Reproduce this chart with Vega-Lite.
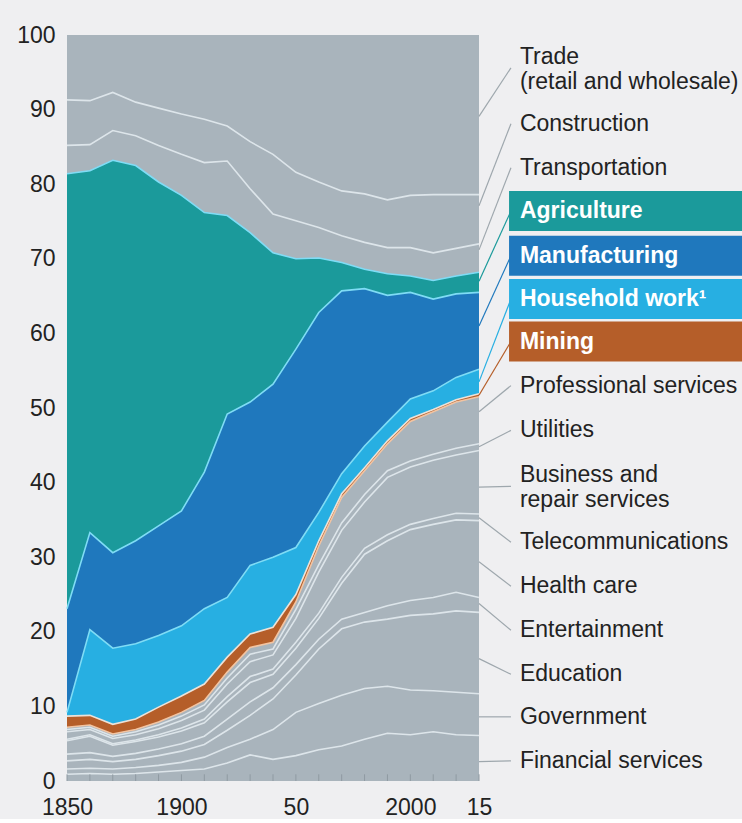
{
  "$schema": "https://vega.github.io/schema/vega-lite/v6.json",
  "background": "#efeff1",
  "padding": {"left": 16, "top": 24, "right": 0, "bottom": 0},
  "bounds": "flush",
  "spacing": 0,
  "config": {
    "view": {"stroke": null},
    "font": "Liberation Sans",
    "text": {"font": "Liberation Sans"}
  },
  "resolve": {"scale": {"fill": "independent", "stroke": "independent", "color": "independent"}},
  "datasets": {
    "employment": [
      {"year": 1850, "Financial services": 0.9, "Government": 0.7, "Education": 1.1, "Entertainment": 0.9, "Health care": 1.8, "Telecommunications": 0.2, "Business and repair services": 1.0, "Utilities": 0.3, "Professional services": 0.3, "Mining": 1.5, "Household work": 0.5, "Manufacturing": 13.9, "Agriculture": 58.3, "Transportation": 3.8, "Construction": 6.1, "Trade": 8.7},
      {"year": 1860, "Financial services": 1.0, "Government": 0.7, "Education": 1.2, "Entertainment": 0.9, "Health care": 2.2, "Telecommunications": 0.2, "Business and repair services": 0.7, "Utilities": 0.3, "Professional services": 0.3, "Mining": 1.3, "Household work": 11.5, "Manufacturing": 13.0, "Agriculture": 48.5, "Transportation": 3.5, "Construction": 5.9, "Trade": 8.8},
      {"year": 1870, "Financial services": 0.9, "Government": 0.7, "Education": 1.0, "Entertainment": 0.7, "Health care": 1.5, "Telecommunications": 0.2, "Business and repair services": 0.7, "Utilities": 0.3, "Professional services": 0.3, "Mining": 1.3, "Household work": 10.2, "Manufacturing": 12.8, "Agriculture": 52.6, "Transportation": 4.0, "Construction": 5.1, "Trade": 7.7},
      {"year": 1880, "Financial services": 1.0, "Government": 0.8, "Education": 1.1, "Entertainment": 0.8, "Health care": 1.6, "Telecommunications": 0.2, "Business and repair services": 0.7, "Utilities": 0.4, "Professional services": 0.3, "Mining": 1.4, "Household work": 10.1, "Manufacturing": 13.8, "Agriculture": 50.3, "Transportation": 4.0, "Construction": 4.5, "Trade": 9.0},
      {"year": 1890, "Financial services": 1.2, "Government": 0.9, "Education": 1.3, "Entertainment": 0.9, "Health care": 1.6, "Telecommunications": 0.3, "Business and repair services": 0.8, "Utilities": 0.5, "Professional services": 0.4, "Mining": 2.0, "Household work": 9.6, "Manufacturing": 14.7, "Agriculture": 46.1, "Transportation": 4.9, "Construction": 5.0, "Trade": 9.8},
      {"year": 1900, "Financial services": 1.4, "Government": 1.1, "Education": 1.5, "Entertainment": 1.0, "Health care": 1.7, "Telecommunications": 0.4, "Business and repair services": 1.0, "Utilities": 0.6, "Professional services": 0.5, "Mining": 2.2, "Household work": 9.4, "Manufacturing": 15.4, "Agriculture": 42.3, "Transportation": 5.5, "Construction": 5.4, "Trade": 10.6},
      {"year": 1910, "Financial services": 1.6, "Government": 1.6, "Education": 1.7, "Entertainment": 1.1, "Health care": 1.8, "Telecommunications": 0.5, "Business and repair services": 1.2, "Utilities": 0.7, "Professional services": 0.6, "Mining": 2.2, "Household work": 10.1, "Manufacturing": 18.3, "Agriculture": 34.8, "Transportation": 6.7, "Construction": 5.8, "Trade": 11.3},
      {"year": 1920, "Financial services": 2.4, "Government": 2.1, "Education": 2.3, "Entertainment": 1.5, "Health care": 2.3, "Telecommunications": 0.7, "Business and repair services": 1.7, "Utilities": 0.8, "Professional services": 0.8, "Mining": 2.0, "Household work": 8.0, "Manufacturing": 24.6, "Agriculture": 26.6, "Transportation": 7.3, "Construction": 4.7, "Trade": 12.2},
      {"year": 1930, "Financial services": 3.5, "Government": 2.1, "Education": 3.2, "Entertainment": 1.8, "Health care": 2.6, "Telecommunications": 0.8, "Business and repair services": 2.0, "Utilities": 1.0, "Professional services": 0.9, "Mining": 1.8, "Household work": 9.2, "Manufacturing": 21.9, "Agriculture": 22.7, "Transportation": 5.9, "Construction": 6.3, "Trade": 14.3},
      {"year": 1940, "Financial services": 2.9, "Government": 4.0, "Education": 4.1, "Entertainment": 1.5, "Health care": 1.8, "Telecommunications": 0.7, "Business and repair services": 1.9, "Utilities": 0.8, "Professional services": 0.9, "Mining": 2.0, "Household work": 9.4, "Manufacturing": 23.2, "Agriculture": 17.6, "Transportation": 5.2, "Construction": 8.0, "Trade": 16.0},
      {"year": 1950, "Financial services": 3.4, "Government": 5.8, "Education": 5.0, "Entertainment": 1.4, "Health care": 2.2, "Telecommunications": 0.8, "Business and repair services": 3.2, "Utilities": 1.2, "Professional services": 1.0, "Mining": 1.0, "Household work": 6.3, "Manufacturing": 26.6, "Agriculture": 12.1, "Transportation": 5.1, "Construction": 6.5, "Trade": 18.4},
      {"year": 1960, "Financial services": 4.2, "Government": 6.2, "Education": 7.3, "Entertainment": 1.3, "Health care": 2.8, "Telecommunications": 0.7, "Business and repair services": 5.5, "Utilities": 1.0, "Professional services": 2.5, "Mining": 0.7, "Household work": 3.8, "Manufacturing": 26.8, "Agriculture": 7.3, "Transportation": 4.1, "Construction": 6.1, "Trade": 19.7},
      {"year": 1970, "Financial services": 4.7, "Government": 6.8, "Education": 8.9, "Entertainment": 1.3, "Health care": 4.8, "Telecommunications": 0.8, "Business and repair services": 6.3, "Utilities": 1.0, "Professional services": 3.4, "Mining": 0.5, "Household work": 2.7, "Manufacturing": 24.5, "Agriculture": 3.8, "Transportation": 3.6, "Construction": 6.0, "Trade": 20.9},
      {"year": 1980, "Financial services": 5.6, "Government": 6.8, "Education": 8.9, "Entertainment": 1.3, "Health care": 7.8, "Telecommunications": 0.8, "Business and repair services": 6.2, "Utilities": 1.0, "Professional services": 3.2, "Mining": 0.4, "Household work": 2.9, "Manufacturing": 21.1, "Agriculture": 2.6, "Transportation": 3.6, "Construction": 6.5, "Trade": 21.3},
      {"year": 1990, "Financial services": 6.4, "Government": 6.3, "Education": 9.0, "Entertainment": 1.8, "Health care": 8.7, "Telecommunications": 0.8, "Business and repair services": 7.7, "Utilities": 0.9, "Professional services": 3.6, "Mining": 0.4, "Household work": 2.5, "Manufacturing": 17.0, "Agriculture": 2.9, "Transportation": 3.5, "Construction": 6.4, "Trade": 22.1},
      {"year": 2000, "Financial services": 6.2, "Government": 6.0, "Education": 10.0, "Entertainment": 2.0, "Health care": 9.5, "Telecommunications": 0.7, "Business and repair services": 7.7, "Utilities": 0.8, "Professional services": 5.3, "Mining": 0.4, "Household work": 2.6, "Manufacturing": 14.3, "Agriculture": 2.2, "Transportation": 3.8, "Construction": 7.0, "Trade": 21.5},
      {"year": 2005, "Financial services": 6.6, "Government": 5.5, "Education": 10.3, "Entertainment": 2.2, "Health care": 9.8, "Telecommunications": 0.8, "Business and repair services": 7.8, "Utilities": 0.8, "Professional services": 5.7, "Mining": 0.3, "Household work": 2.5, "Manufacturing": 12.3, "Agriculture": 2.5, "Transportation": 3.7, "Construction": 7.8, "Trade": 21.4},
      {"year": 2010, "Financial services": 6.2, "Government": 5.7, "Education": 10.9, "Entertainment": 2.5, "Health care": 9.7, "Telecommunications": 0.9, "Business and repair services": 7.8, "Utilities": 0.9, "Professional services": 6.2, "Mining": 0.3, "Household work": 3.0, "Manufacturing": 11.2, "Agriculture": 2.4, "Transportation": 3.7, "Construction": 7.2, "Trade": 21.4},
      {"year": 2015, "Financial services": 6.1, "Government": 5.6, "Education": 10.9, "Entertainment": 2.0, "Health care": 10.3, "Telecommunications": 0.9, "Business and repair services": 8.5, "Utilities": 0.9, "Professional services": 6.3, "Mining": 0.4, "Household work": 3.3, "Manufacturing": 10.3, "Agriculture": 2.7, "Transportation": 3.8, "Construction": 6.6, "Trade": 21.4}
    ],
    "sectors": [
      {"sector": "Financial services", "k": 1},
      {"sector": "Government", "k": 2},
      {"sector": "Education", "k": 3},
      {"sector": "Entertainment", "k": 4},
      {"sector": "Health care", "k": 5},
      {"sector": "Telecommunications", "k": 6},
      {"sector": "Business and repair services", "k": 7},
      {"sector": "Utilities", "k": 8},
      {"sector": "Professional services", "k": 9},
      {"sector": "Mining", "k": 10},
      {"sector": "Household work", "k": 11},
      {"sector": "Manufacturing", "k": 12},
      {"sector": "Agriculture", "k": 13},
      {"sector": "Transportation", "k": 14},
      {"sector": "Construction", "k": 15},
      {"sector": "Trade", "k": 16}
    ],
    "labels": [
      {"sector": "Trade", "text": "Trade\n(retail and wholesale)", "ly": 95.6, "ev": 89.1},
      {"sector": "Construction", "text": "Construction", "ly": 88.1, "ev": 77.1},
      {"sector": "Transportation", "text": "Transportation", "ly": 82.2, "ev": 71.2},
      {"sector": "Agriculture", "text": "Agriculture", "ly": 76.4, "ev": 67.0},
      {"sector": "Manufacturing", "text": "Manufacturing", "ly": 70.4, "ev": 61.0},
      {"sector": "Household work", "text": "Household work¹", "ly": 64.6, "ev": 53.5},
      {"sector": "Mining", "text": "Mining", "ly": 58.9, "ev": 51.7},
      {"sector": "Professional services", "text": "Professional services", "ly": 53.0, "ev": 49.5},
      {"sector": "Utilities", "text": "Utilities", "ly": 47.0, "ev": 44.8},
      {"sector": "Business and repair services", "text": "Business and\nrepair services", "ly": 39.5, "ev": 39.4},
      {"sector": "Telecommunications", "text": "Telecommunications", "ly": 32.0, "ev": 35.3},
      {"sector": "Health care", "text": "Health care", "ly": 26.1, "ev": 29.4},
      {"sector": "Entertainment", "text": "Entertainment", "ly": 20.2, "ev": 23.8},
      {"sector": "Education", "text": "Education", "ly": 14.3, "ev": 16.4},
      {"sector": "Government", "text": "Government", "ly": 8.6, "ev": 8.6},
      {"sector": "Financial services", "text": "Financial services", "ly": 2.7, "ev": 2.6}
    ]
  },
  "hconcat": [
    {
      "width": 412,
      "height": 746,
      "data": {"name": "employment"},
      "transform": [
        {"fold": ["Financial services", "Government", "Education", "Entertainment", "Health care", "Telecommunications", "Business and repair services", "Utilities", "Professional services", "Mining", "Household work", "Manufacturing", "Agriculture", "Transportation", "Construction", "Trade"], "as": ["sector", "share"]},
        {"lookup": "sector", "from": {"data": {"name": "sectors"}, "key": "sector", "fields": ["k"]}},
        {"stack": "share", "groupby": ["year"], "sort": [{"field": "k", "order": "ascending"}], "as": ["y0", "y1"]}
      ],
      "encoding": {
        "x": {
          "field": "year", "type": "ordinal",
          "scale": {"type": "point", "padding": 0},
          "axis": {
            "title": null, "ticks": false, "domain": false, "grid": false, "labelAngle": 0,
            "labelFontSize": 23, "labelColor": "#222222", "labelPadding": 15, "labelFont": "Liberation Sans",
            "labelExpr": "datum.value == 1850 ? '1850' : datum.value == 1900 ? '1900' : datum.value == 1950 ? '50' : datum.value == 2000 ? '2000' : datum.value == 2015 ? '15' : ''"
          }
        },
        "y": {
          "field": "y1", "type": "quantitative",
          "scale": {"domain": [0, 100], "nice": false},
          "axis": {
            "title": null, "values": [0, 10, 20, 30, 40, 50, 60, 70, 80, 90, 100],
            "ticks": false, "domain": false, "grid": false, "labelFlush": false,
            "labelFontSize": 23, "labelColor": "#222222", "labelPadding": 12, "labelFont": "Liberation Sans"
          }
        }
      },
      "layer": [
        {
          "mark": {"type": "area", "interpolate": "linear"},
          "encoding": {
            "y2": {"field": "y0"},
            "fill": {
              "field": "sector", "type": "nominal", "legend": null,
              "scale": {
                "domain": ["Financial services", "Government", "Education", "Entertainment", "Health care", "Telecommunications", "Business and repair services", "Utilities", "Professional services", "Mining", "Household work", "Manufacturing", "Agriculture", "Transportation", "Construction", "Trade"],
                "range": ["#a9b4bc", "#a9b4bc", "#a9b4bc", "#a9b4bc", "#a9b4bc", "#a9b4bc", "#a9b4bc", "#a9b4bc", "#a9b4bc", "#b55e29", "#27afe2", "#1f78bd", "#1b9a9b", "#a9b4bc", "#a9b4bc", "#a9b4bc"]
              }
            }
          }
        },
        {
          "transform": [{"filter": "datum.sector != 'Trade'"}],
          "mark": {"type": "line", "strokeWidth": 1.6, "interpolate": "linear"},
          "encoding": {
            "stroke": {
              "field": "sector", "type": "nominal", "legend": null,
              "scale": {
                "domain": ["Financial services", "Government", "Education", "Entertainment", "Health care", "Telecommunications", "Business and repair services", "Utilities", "Professional services", "Mining", "Household work", "Manufacturing", "Agriculture", "Transportation", "Construction"],
                "range": ["#dde5ea", "#dde5ea", "#dde5ea", "#dde5ea", "#dde5ea", "#dde5ea", "#dde5ea", "#dde5ea", "#f2c4a2", "#ece2d8", "#7fdcf5", "#7fdcf5", "#7fdcf5", "#dde5ea", "#dde5ea"]
              }
            }
          }
        },
        {
          "transform": [{"filter": "datum.sector == 'Trade'"}],
          "mark": {"type": "rule", "stroke": "#8f9aa2", "strokeWidth": 1},
          "encoding": {
            "y": {"datum": 0},
            "y2": {"datum": 0.9}
          }
        }
      ]
    },
    {
      "width": 264,
      "height": 746,
      "data": {"name": "labels"},
      "encoding": {
        "y": {"field": "ly", "type": "quantitative", "scale": {"domain": [0, 100], "nice": false}, "axis": null}
      },
      "layer": [
        {
          "mark": {"type": "rule", "strokeWidth": 1.2},
          "encoding": {
            "x": {"datum": 0, "type": "quantitative", "scale": {"domain": [0, 1], "nice": false}, "axis": null},
            "x2": {"datum": 0.121},
            "y": {"field": "ev", "type": "quantitative"},
            "y2": {"field": "ly"},
            "stroke": {
              "field": "sector", "type": "nominal", "legend": null,
              "scale": {
                "domain": ["Financial services", "Government", "Education", "Entertainment", "Health care", "Telecommunications", "Business and repair services", "Utilities", "Professional services", "Mining", "Household work", "Manufacturing", "Agriculture", "Transportation", "Construction", "Trade"],
                "range": ["#9ea7ad", "#9ea7ad", "#9ea7ad", "#9ea7ad", "#9ea7ad", "#9ea7ad", "#9ea7ad", "#9ea7ad", "#9ea7ad", "#b55e29", "#27afe2", "#1f78bd", "#1b9a9b", "#9ea7ad", "#9ea7ad", "#9ea7ad"]
              }
            }
          }
        },
        {
          "transform": [{"filter": {"field": "sector", "oneOf": ["Agriculture", "Manufacturing", "Household work", "Mining"]}}],
          "mark": {"type": "tick", "orient": "horizontal", "thickness": 40, "size": 234, "opacity": 1},
          "encoding": {
            "x": {"datum": 0.557, "type": "quantitative"},
            "color": {
              "field": "sector", "type": "nominal", "legend": null,
              "scale": {"domain": ["Agriculture", "Manufacturing", "Household work", "Mining"], "range": ["#1b9a9b", "#1f78bd", "#27afe2", "#b55e29"]}
            }
          }
        },
        {
          "transform": [{"filter": {"not": {"field": "sector", "oneOf": ["Agriculture", "Manufacturing", "Household work", "Mining", "Trade", "Business and repair services"]}}}],
          "mark": {"type": "text", "align": "left", "baseline": "middle", "fontSize": 23, "color": "#222222", "font": "Liberation Sans"},
          "encoding": {
            "x": {"datum": 0.155, "type": "quantitative"},
            "text": {"field": "text"}
          }
        },
        {
          "transform": [{"filter": {"field": "sector", "oneOf": ["Trade", "Business and repair services"]}}],
          "mark": {"type": "text", "align": "left", "baseline": "middle", "fontSize": 23, "lineBreak": "\n", "lineHeight": 25, "dy": -11, "color": "#222222", "font": "Liberation Sans"},
          "encoding": {
            "x": {"datum": 0.155, "type": "quantitative"},
            "text": {"field": "text"}
          }
        },
        {
          "transform": [{"filter": {"field": "sector", "oneOf": ["Agriculture", "Manufacturing", "Household work", "Mining"]}}],
          "mark": {"type": "text", "align": "left", "baseline": "middle", "fontSize": 23, "fontWeight": "bold", "color": "#ffffff", "font": "Liberation Sans"},
          "encoding": {
            "x": {"datum": 0.155, "type": "quantitative"},
            "text": {"field": "text"}
          }
        }
      ]
    }
  ]
}
